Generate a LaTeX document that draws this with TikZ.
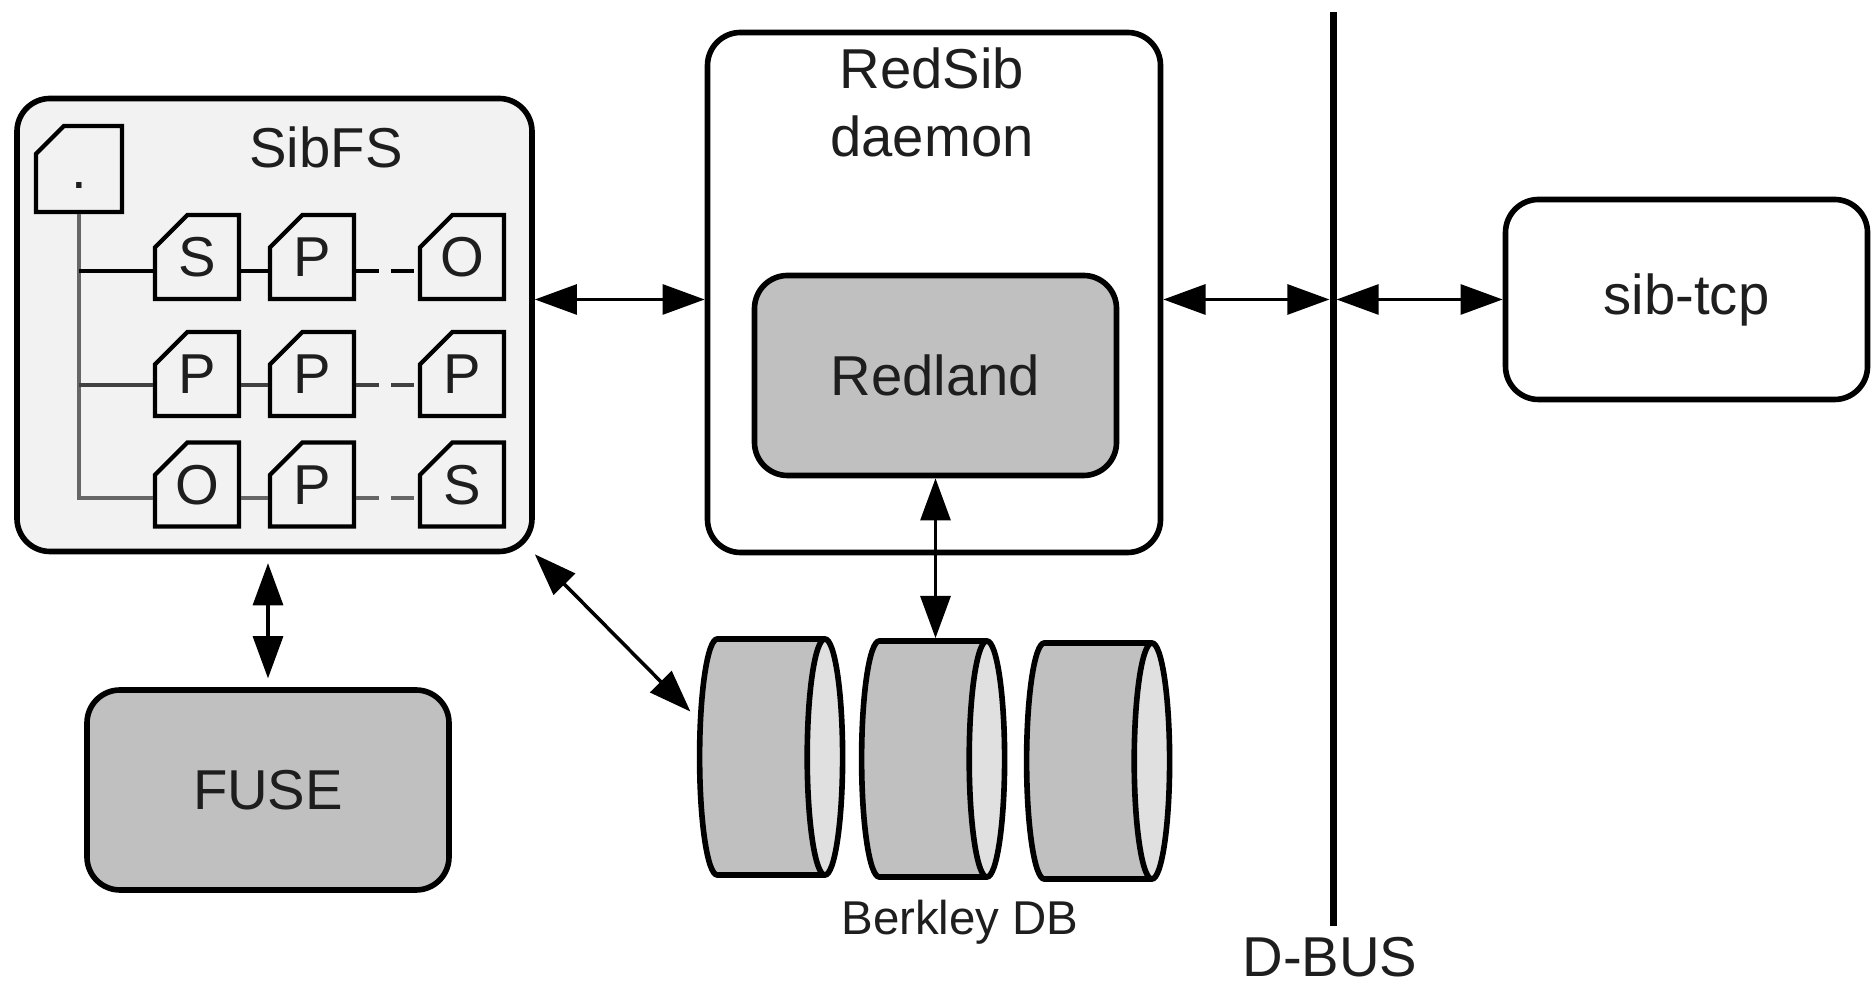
\documentclass[tikz,border=0pt]{standalone}
\usepackage{fontspec}
\setmainfont{Liberation Sans}
\usetikzlibrary{arrows.meta,shapes.geometric,shapes.misc}
\definecolor{panelgray}{RGB}{242,242,242}
\definecolor{boxgray}{RGB}{192,192,192}
\definecolor{endgray}{RGB}{224,224,224}
\definecolor{textgray}{RGB}{30,30,30}

\begin{document}
\begin{tikzpicture}[
  every node/.style={font=\fontsize{16}{19.3}\selectfont, text=textgray},
  box/.style={draw, rounded corners=0.33cm, line width=1.6pt, minimum width=3.62cm, minimum height=2cm},
  cell/.style={chamfered rectangle, chamfered rectangle corners=north west, chamfered rectangle xsep=0.26cm,
    draw, line width=1.2pt, fill=panelgray, minimum width=0.84cm, minimum height=0.84cm,
    inner sep=0pt, text height=0.4cm, text depth=0pt},
  db/.style={cylinder, draw, line width=1.6pt, cylinder uses custom fill, cylinder body fill=boxgray,
    cylinder end fill=endgray, minimum height=1.43cm, inner xsep=0pt, inner ysep=1.18cm, aspect=0.15},
  biarrow/.style={line width=1pt, {Triangle[length=12pt,width=8.5pt]}-{Triangle[length=12pt,width=8.5pt]}},
  link/.style={line width=1pt}
]
\useasboundingbox (0,0) rectangle (18.74,9.85);

% SibFS with its triple files
\node[box, fill=panelgray, minimum width=5.15cm, minimum height=4.53cm] (sibfs) at (2.745,6.60) {};
\node[anchor=base] (sibfstitle) at (3.26,8.17) {SibFS};
\node[cell, minimum width=0.86cm, minimum height=0.86cm] (root) at (0.79,8.16) {.};
\node[cell] (c11) at (1.97,7.28) {S};
\node[cell] (c12) at (3.12,7.28) {P};
\node[cell] (c13) at (4.62,7.28) {O};
\node[cell] (c21) at (1.97,6.11) {P};
\node[cell] (c22) at (3.12,6.11) {P};
\node[cell] (c23) at (4.62,6.11) {P};
\node[cell] (c31) at (1.97,5.005) {O};
\node[cell] (c32) at (3.12,5.005) {P};
\node[cell] (c33) at (4.62,5.005) {S};
\coordinate (r1) at (0,7.14);
\coordinate (r2) at (0,6.00);
\coordinate (r3) at (0,4.87);

% tree links
\draw[link, black!60] (root.south) |- (c31.west |- r3);
\draw[link] (root.south |- r1) -- (c11.west |- r1) (c11.east |- r1) -- (c12.west |- r1);
\draw[link, dash pattern=on 0.23cm off 0.12cm] (c12.east |- r1) -- (c13.west |- r1);
\draw[link, black!75] (root.south |- r2) -- (c21.west |- r2) (c21.east |- r2) -- (c22.west |- r2);
\draw[link, black!75, dash pattern=on 0.23cm off 0.12cm] (c22.east |- r2) -- (c23.west |- r2);
\draw[link, black!60] (c31.east |- r3) -- (c32.west |- r3);
\draw[link, black!60, dash pattern=on 0.23cm off 0.12cm] (c32.east |- r3) -- (c33.west |- r3);

% RedSib daemon
\node[box, minimum width=4.53cm, minimum height=5.20cm] (redsib) at (9.34,6.925) {};
\node[anchor=north, align=center, inner sep=0pt] (redsibtitle) at (9.32,9.38) {RedSib\\daemon};
\node[box, fill=boxgray] (redland) at (9.355,6.095) {Redland};

% other boxes
\node[box] (sibtcp) at (16.865,6.855) {sib-tcp};
\node[box, fill=boxgray] (fuse) at (2.68,1.95) {FUSE};

% Berkley DB
\node[db] (db1) at (7.52,2.28) {};
\node[db] (db2) at (9.14,2.26) {};
\node[db] (db3) at (10.79,2.24) {};
\node[anchor=base, font=\fontsize{13.5}{16}\selectfont] (dblabel) at (9.60,0.50) {Berkley DB};

% D-BUS
\coordinate (bustop) at (13.33,9.73);
\coordinate (busbot) at (13.33,0.59);
\draw[line width=2pt] (bustop) -- (busbot);
\node[anchor=base] (dbus) at (13.30,0.08) {D-BUS};

% Connections
\draw[biarrow] (sibfs.east |- sibtcp) -- (redsib.west |- sibtcp);
\draw[biarrow, shorten >=1pt] (redsib.east |- sibtcp) -- (bustop |- sibtcp);
\draw[biarrow, shorten <=1pt] (bustop |- sibtcp) -- (sibtcp.west);
\draw[biarrow, shorten <=2.5pt, shorten >=2.5pt] (fuse.north |- sibfs.south) -- (fuse.north);
\draw[biarrow, shorten >=3pt] (sibfs.south east) -- (db1.145);
\draw[biarrow] (redland.south) -- (redland.south |- db2.north);
\end{tikzpicture}
\end{document}
